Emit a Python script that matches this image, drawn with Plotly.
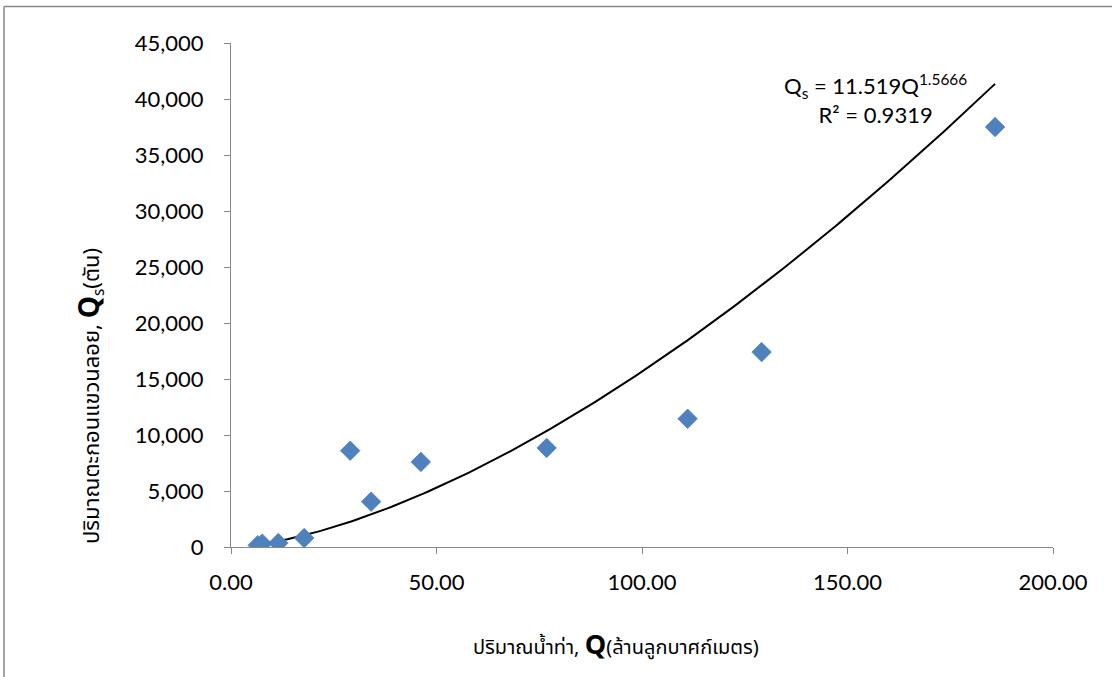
import numpy as np
import plotly.graph_objects as go

# Runoff volume (million m3) and suspended sediment load (tonnes)
runoff_q = [6.5, 7.6, 11.5, 17.8, 29.0, 34.1, 46.2, 76.8, 111.1, 129.1, 185.9]
sediment_qs = [150, 300, 350, 800, 8600, 4050, 7600, 8850, 11450, 17400, 37500]

# Power-law fit coefficients  Qs = a * Q^b
coef_a = 11.519
coef_b = 1.5666
r_squared = 0.9319

x_ticks = [0, 50, 100, 150, 200]
y_ticks = list(range(0, 45001, 5000))

q_fit = np.linspace(min(runoff_q), max(runoff_q), 200)
qs_fit = coef_a * q_fit ** coef_b

W, H = 1112, 677
ML, MR, MT, MB = 231, 59, 43, 130
pw, ph = W - ML - MR, H - MT - MB

fig = go.Figure()
fig.add_trace(go.Scatter(
    x=q_fit, y=qs_fit, mode="lines",
    line=dict(color="black", width=2), hoverinfo="skip", showlegend=False))
fig.add_trace(go.Scatter(
    x=runoff_q, y=sediment_qs, mode="markers",
    marker=dict(symbol="diamond", size=15, color="#4F81BD",
                line=dict(color="#4A7EBB", width=0.75)),
    showlegend=False))

axis_col = "#878787"
num_family = "Lato, Carlito, Calibri, sans-serif"
tick_font = dict(family=num_family, size=22, color="black")

fig.update_xaxes(
    range=[0, 200], tickvals=x_ticks,
    ticktext=[f"{v:.2f}" for v in x_ticks],
    showgrid=False, zeroline=False, showline=True, linecolor=axis_col, linewidth=1,
    ticks="outside", ticklen=6, tickcolor=axis_col, tickfont=tick_font,
    ticklabelstandoff=10)
fig.update_yaxes(
    range=[0, 45000], tickvals=y_ticks,
    ticktext=[f"{v:,}" for v in y_ticks],
    showgrid=False, zeroline=False, showline=True, linecolor=axis_col, linewidth=1,
    ticks="outside", ticklen=6, tickcolor=axis_col, tickfont=tick_font,
    ticklabelstandoff=16)

def px_x(p):
    return (p - ML) / pw

def px_y(p):
    return (H - MB - p) / ph

thai_font = "Tahoma, 'Noto Sans Thai', 'Noto Sans', sans-serif"

annotations = [
    dict(text=f"Q<sub>s</sub> = {coef_a}Q<sup>{coef_b}</sup><br>R² = {r_squared}",
         x=px_x(875), y=px_y(99), xref="paper", yref="paper",
         xanchor="center", yanchor="middle",
         showarrow=False, align="center",
         font=dict(family=num_family, size=22, color="black")),
    dict(text="ปริมาณน้ำท่า, <span style='font-size:27px'><b>Q</b></span>(ล้านลูกบาศก์เมตร)",
         x=px_x(616), y=px_y(645), xref="paper", yref="paper",
         xanchor="center", yanchor="middle",
         showarrow=False, font=dict(family=thai_font, size=20, color="black")),
    dict(text="ปริมาณตะกอนแขวนลอย, <span style='font-size:28px'><b>Q</b></span><sub>s</sub>(ตัน)",
         x=px_x(90), y=px_y(396), xref="paper", yref="paper", textangle=-90,
         xanchor="center", yanchor="middle",
         showarrow=False, font=dict(family=thai_font, size=22, color="black")),
]

# Outer chart frame (top and left edges visible)
shapes = [
    dict(type="line", xref="paper", yref="paper",
         x0=px_x(4), x1=px_x(W + 5), y0=px_y(6.5), y1=px_y(6.5),
         line=dict(color="#868686", width=1.5)),
    dict(type="line", xref="paper", yref="paper",
         x0=px_x(4), x1=px_x(4), y0=px_y(6.5), y1=px_y(H + 5),
         line=dict(color="#868686", width=1.5)),
]

fig.update_layout(
    width=W, height=H,
    margin=dict(l=ML, r=MR, t=MT, b=MB),
    paper_bgcolor="white", plot_bgcolor="white",
    annotations=annotations, shapes=shapes,
)

fig.write_html("out.html")
